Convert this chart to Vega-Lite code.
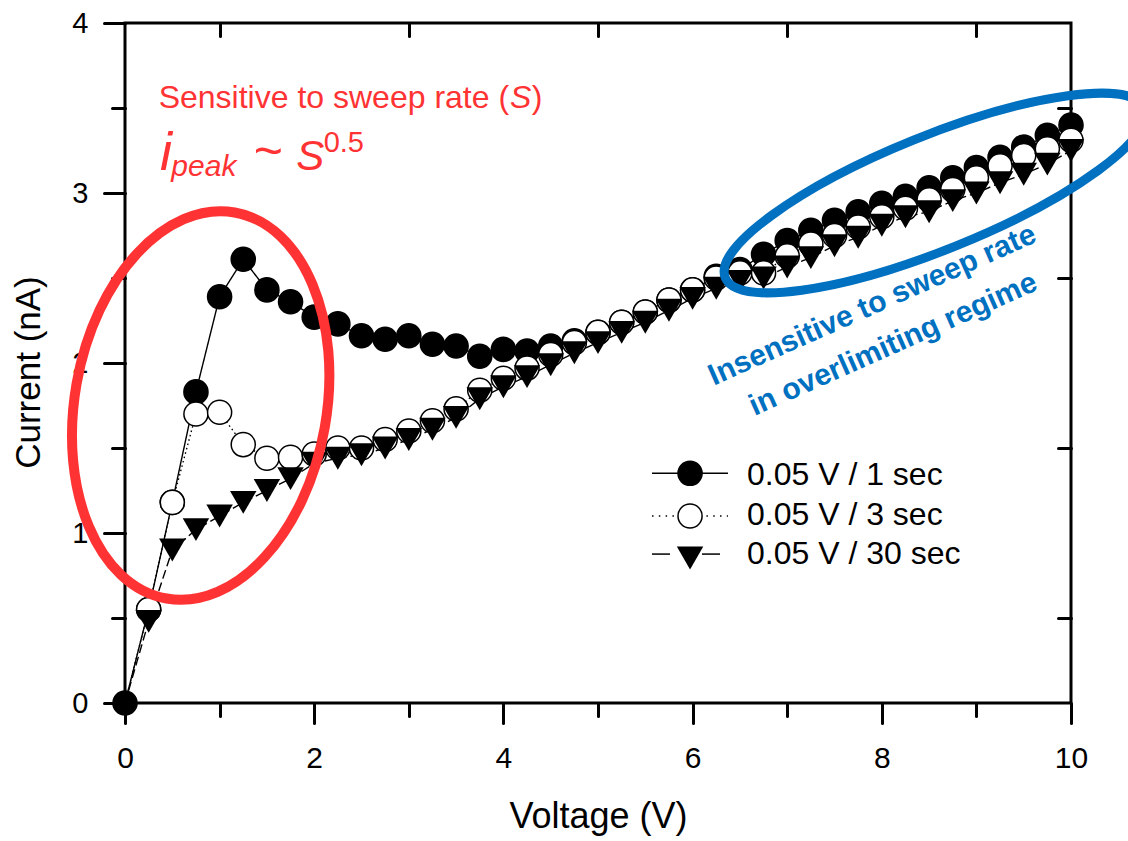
{
  "$schema": "https://vega.github.io/schema/vega-lite/v6.json",
  "width": 946,
  "height": 680,
  "autosize": {"type": "none"},
  "padding": {"left": 125, "top": 23, "right": 57, "bottom": 138},
  "background": "white",
  "data": {"values": [
    {"series":"0.05 V / 1 sec","V":0,"I":0},{"series":"0.05 V / 1 sec","V":0.25,"I":0.55},{"series":"0.05 V / 1 sec","V":0.5,"I":1.18},{"series":"0.05 V / 1 sec","V":0.75,"I":1.83},{"series":"0.05 V / 1 sec","V":1,"I":2.39},{"series":"0.05 V / 1 sec","V":1.25,"I":2.61},{"series":"0.05 V / 1 sec","V":1.5,"I":2.43},{"series":"0.05 V / 1 sec","V":1.75,"I":2.36},{"series":"0.05 V / 1 sec","V":2,"I":2.27},{"series":"0.05 V / 1 sec","V":2.25,"I":2.23},{"series":"0.05 V / 1 sec","V":2.5,"I":2.16},{"series":"0.05 V / 1 sec","V":2.75,"I":2.14},{"series":"0.05 V / 1 sec","V":3,"I":2.16},{"series":"0.05 V / 1 sec","V":3.25,"I":2.11},{"series":"0.05 V / 1 sec","V":3.5,"I":2.10},{"series":"0.05 V / 1 sec","V":3.75,"I":2.04},{"series":"0.05 V / 1 sec","V":4,"I":2.08},{"series":"0.05 V / 1 sec","V":4.25,"I":2.07},{"series":"0.05 V / 1 sec","V":4.5,"I":2.10},{"series":"0.05 V / 1 sec","V":4.75,"I":2.13},{"series":"0.05 V / 1 sec","V":5,"I":2.18},{"series":"0.05 V / 1 sec","V":5.25,"I":2.24},{"series":"0.05 V / 1 sec","V":5.5,"I":2.30},{"series":"0.05 V / 1 sec","V":5.75,"I":2.37},{"series":"0.05 V / 1 sec","V":6,"I":2.43},{"series":"0.05 V / 1 sec","V":6.25,"I":2.51},{"series":"0.05 V / 1 sec","V":6.5,"I":2.55},{"series":"0.05 V / 1 sec","V":6.75,"I":2.64},{"series":"0.05 V / 1 sec","V":7,"I":2.72},{"series":"0.05 V / 1 sec","V":7.25,"I":2.78},{"series":"0.05 V / 1 sec","V":7.5,"I":2.84},{"series":"0.05 V / 1 sec","V":7.75,"I":2.89},{"series":"0.05 V / 1 sec","V":8,"I":2.94},{"series":"0.05 V / 1 sec","V":8.25,"I":2.98},{"series":"0.05 V / 1 sec","V":8.5,"I":3.03},{"series":"0.05 V / 1 sec","V":8.75,"I":3.09},{"series":"0.05 V / 1 sec","V":9,"I":3.15},{"series":"0.05 V / 1 sec","V":9.25,"I":3.21},{"series":"0.05 V / 1 sec","V":9.5,"I":3.27},{"series":"0.05 V / 1 sec","V":9.75,"I":3.34},{"series":"0.05 V / 1 sec","V":10,"I":3.40},
    {"series":"0.05 V / 3 sec","V":0,"I":0},{"series":"0.05 V / 3 sec","V":0.25,"I":0.55},{"series":"0.05 V / 3 sec","V":0.5,"I":1.18},{"series":"0.05 V / 3 sec","V":0.75,"I":1.70},{"series":"0.05 V / 3 sec","V":1,"I":1.71},{"series":"0.05 V / 3 sec","V":1.25,"I":1.52},{"series":"0.05 V / 3 sec","V":1.5,"I":1.44},{"series":"0.05 V / 3 sec","V":1.75,"I":1.445},{"series":"0.05 V / 3 sec","V":2,"I":1.465},{"series":"0.05 V / 3 sec","V":2.25,"I":1.50},{"series":"0.05 V / 3 sec","V":2.5,"I":1.50},{"series":"0.05 V / 3 sec","V":2.75,"I":1.55},{"series":"0.05 V / 3 sec","V":3,"I":1.60},{"series":"0.05 V / 3 sec","V":3.25,"I":1.66},{"series":"0.05 V / 3 sec","V":3.5,"I":1.73},{"series":"0.05 V / 3 sec","V":3.75,"I":1.84},{"series":"0.05 V / 3 sec","V":4,"I":1.91},{"series":"0.05 V / 3 sec","V":4.25,"I":1.97},{"series":"0.05 V / 3 sec","V":4.5,"I":2.05},{"series":"0.05 V / 3 sec","V":4.75,"I":2.12},{"series":"0.05 V / 3 sec","V":5,"I":2.18},{"series":"0.05 V / 3 sec","V":5.25,"I":2.24},{"series":"0.05 V / 3 sec","V":5.5,"I":2.30},{"series":"0.05 V / 3 sec","V":5.75,"I":2.37},{"series":"0.05 V / 3 sec","V":6,"I":2.43},{"series":"0.05 V / 3 sec","V":6.25,"I":2.50},{"series":"0.05 V / 3 sec","V":6.5,"I":2.53},{"series":"0.05 V / 3 sec","V":6.75,"I":2.53},{"series":"0.05 V / 3 sec","V":7,"I":2.63},{"series":"0.05 V / 3 sec","V":7.25,"I":2.70},{"series":"0.05 V / 3 sec","V":7.5,"I":2.75},{"series":"0.05 V / 3 sec","V":7.75,"I":2.80},{"series":"0.05 V / 3 sec","V":8,"I":2.86},{"series":"0.05 V / 3 sec","V":8.25,"I":2.91},{"series":"0.05 V / 3 sec","V":8.5,"I":2.96},{"series":"0.05 V / 3 sec","V":8.75,"I":3.02},{"series":"0.05 V / 3 sec","V":9,"I":3.09},{"series":"0.05 V / 3 sec","V":9.25,"I":3.16},{"series":"0.05 V / 3 sec","V":9.5,"I":3.22},{"series":"0.05 V / 3 sec","V":9.75,"I":3.26},{"series":"0.05 V / 3 sec","V":10,"I":3.31},
    {"series":"0.05 V / 30 sec","V":0,"I":0},{"series":"0.05 V / 30 sec","V":0.25,"I":0.48},{"series":"0.05 V / 30 sec","V":0.5,"I":0.90},{"series":"0.05 V / 30 sec","V":0.75,"I":1.02},{"series":"0.05 V / 30 sec","V":1,"I":1.10},{"series":"0.05 V / 30 sec","V":1.25,"I":1.18},{"series":"0.05 V / 30 sec","V":1.5,"I":1.25},{"series":"0.05 V / 30 sec","V":1.75,"I":1.32},{"series":"0.05 V / 30 sec","V":2,"I":1.41},{"series":"0.05 V / 30 sec","V":2.25,"I":1.44},{"series":"0.05 V / 30 sec","V":2.5,"I":1.46},{"series":"0.05 V / 30 sec","V":2.75,"I":1.50},{"series":"0.05 V / 30 sec","V":3,"I":1.55},{"series":"0.05 V / 30 sec","V":3.25,"I":1.61},{"series":"0.05 V / 30 sec","V":3.5,"I":1.68},{"series":"0.05 V / 30 sec","V":3.75,"I":1.79},{"series":"0.05 V / 30 sec","V":4,"I":1.86},{"series":"0.05 V / 30 sec","V":4.25,"I":1.92},{"series":"0.05 V / 30 sec","V":4.5,"I":1.99},{"series":"0.05 V / 30 sec","V":4.75,"I":2.06},{"series":"0.05 V / 30 sec","V":5,"I":2.12},{"series":"0.05 V / 30 sec","V":5.25,"I":2.18},{"series":"0.05 V / 30 sec","V":5.5,"I":2.24},{"series":"0.05 V / 30 sec","V":5.75,"I":2.31},{"series":"0.05 V / 30 sec","V":6,"I":2.38},{"series":"0.05 V / 30 sec","V":6.25,"I":2.44},{"series":"0.05 V / 30 sec","V":6.5,"I":2.48},{"series":"0.05 V / 30 sec","V":6.75,"I":2.50},{"series":"0.05 V / 30 sec","V":7,"I":2.565},{"series":"0.05 V / 30 sec","V":7.25,"I":2.62},{"series":"0.05 V / 30 sec","V":7.5,"I":2.69},{"series":"0.05 V / 30 sec","V":7.75,"I":2.74},{"series":"0.05 V / 30 sec","V":8,"I":2.81},{"series":"0.05 V / 30 sec","V":8.25,"I":2.86},{"series":"0.05 V / 30 sec","V":8.5,"I":2.89},{"series":"0.05 V / 30 sec","V":8.75,"I":2.955},{"series":"0.05 V / 30 sec","V":9,"I":3.00},{"series":"0.05 V / 30 sec","V":9.25,"I":3.06},{"series":"0.05 V / 30 sec","V":9.5,"I":3.11},{"series":"0.05 V / 30 sec","V":9.75,"I":3.17},{"series":"0.05 V / 30 sec","V":10,"I":3.25}
  ]},
  "resolve": {"axis": {"x": "independent", "y": "independent"}},
  "layer": [
    {
      "mark": {"type": "line", "color": "black", "strokeWidth": 1.4},
      "encoding": {
        "x": {"field": "V", "type": "quantitative", "scale": {"domain": [0, 10], "nice": false},
          "axis": {"orient": "bottom", "values": [0, 2, 4, 6, 8, 10], "tickSize": 20, "labelPadding": 20, "labelFontSize": 30, "labelFlush": false, "title": "Voltage (V)", "titleFontSize": 36, "titlePadding": 26}},
        "y": {"field": "I", "type": "quantitative", "scale": {"domain": [0, 4], "nice": false},
          "axis": {"orient": "left", "values": [0, 1, 2, 3, 4], "tickSize": 21, "labelPadding": 16, "labelFontSize": 29, "title": "Current (nA)", "titleFontSize": 35, "titlePadding": 25, "titleY": 349}},
        "strokeDash": {"field": "series", "type": "nominal",
          "scale": {"domain": ["0.05 V / 1 sec", "0.05 V / 3 sec", "0.05 V / 30 sec"], "range": [[1, 0], [1.5, 3], [9, 4]]},
          "legend": null}
      }
    },
    {
      "transform": [{"filter": "datum.series === '0.05 V / 1 sec'"}],
      "mark": {"type": "point", "shape": "circle", "filled": true, "size": 580, "fill": "black", "stroke": "black", "strokeWidth": 1.5, "opacity": 1},
      "encoding": {
        "x": {"field": "V", "type": "quantitative", "scale": {"domain": [0, 10], "nice": false},
          "axis": {"orient": "bottom", "values": [1, 3, 5, 7, 9], "tickSize": 13, "labels": false, "title": null}},
        "y": {"field": "I", "type": "quantitative", "scale": {"domain": [0, 4], "nice": false},
          "axis": {"orient": "left", "values": [0.5, 1.5, 2.5, 3.5], "tickSize": 13, "labels": false, "title": null}}
      }
    },
    {
      "transform": [{"filter": "datum.series === '0.05 V / 3 sec' && datum.V > 0"}],
      "mark": {"type": "point", "shape": "circle", "filled": true, "size": 580, "fill": "white", "stroke": "black", "strokeWidth": 1.5, "opacity": 1},
      "encoding": {
        "x": {"field": "V", "type": "quantitative", "scale": {"domain": [0, 10], "nice": false},
          "axis": {"orient": "top", "values": [1, 3, 5, 7, 9], "tickSize": 13, "offset": -13, "labels": false, "title": null}},
        "y": {"field": "I", "type": "quantitative", "scale": {"domain": [0, 4], "nice": false},
          "axis": {"orient": "right", "values": [0.5, 1.5, 2.5, 3.5], "tickSize": 13, "offset": -13, "labels": false, "title": null}}
      }
    },
    {
      "transform": [{"filter": "datum.series === '0.05 V / 30 sec' && datum.V > 0"}],
      "mark": {"type": "point", "shape": "triangle-down", "filled": true, "size": 700, "color": "black", "opacity": 1},
      "encoding": {
        "x": {"field": "V", "type": "quantitative", "scale": {"domain": [0, 10], "nice": false}, "axis": null},
        "y": {"field": "I", "type": "quantitative", "scale": {"domain": [0, 4], "nice": false}, "axis": null}
      }
    },
    {
      "data": {"values": [{}]},
      "mark": {"type": "rule", "color": "black", "strokeWidth": 1.5},
      "encoding": {
        "x": {"datum": 5.571, "type": "quantitative", "scale": {"domain": [0, 10], "nice": false}, "axis": null},
        "x2": {"datum": 6.374},
        "y": {"datum": 1.351, "type": "quantitative", "scale": {"domain": [0, 4], "nice": false}, "axis": null}
      }
    },
    {
      "data": {"values": [{}]},
      "mark": {"type": "point", "shape": "circle", "filled": true, "size": 580, "fill": "black", "stroke": "black", "strokeWidth": 1.5, "opacity": 1},
      "encoding": {
        "x": {"datum": 5.973, "type": "quantitative", "scale": {"domain": [0, 10], "nice": false}, "axis": null},
        "y": {"datum": 1.351, "type": "quantitative", "scale": {"domain": [0, 4], "nice": false}, "axis": null}
      }
    },
    {
      "data": {"values": [{}]},
      "mark": {"type": "rule", "color": "black", "strokeWidth": 1.3, "strokeDash": [1.5, 5.3]},
      "encoding": {
        "x": {"datum": 5.571, "type": "quantitative", "scale": {"domain": [0, 10], "nice": false}, "axis": null},
        "x2": {"datum": 6.374},
        "y": {"datum": 1.100, "type": "quantitative", "scale": {"domain": [0, 4], "nice": false}, "axis": null}
      }
    },
    {
      "data": {"values": [{}]},
      "mark": {"type": "point", "shape": "circle", "filled": true, "size": 580, "fill": "white", "stroke": "black", "strokeWidth": 1.5, "opacity": 1},
      "encoding": {
        "x": {"datum": 5.973, "type": "quantitative", "scale": {"domain": [0, 10], "nice": false}, "axis": null},
        "y": {"datum": 1.100, "type": "quantitative", "scale": {"domain": [0, 4], "nice": false}, "axis": null}
      }
    },
    {
      "data": {"values": [{}]},
      "mark": {"type": "rule", "color": "black", "strokeWidth": 1.5},
      "encoding": {
        "x": {"datum": 5.571, "type": "quantitative", "scale": {"domain": [0, 10], "nice": false}, "axis": null},
        "x2": {"datum": 5.761},
        "y": {"datum": 0.876, "type": "quantitative", "scale": {"domain": [0, 4], "nice": false}, "axis": null}
      }
    },
    {
      "data": {"values": [{}]},
      "mark": {"type": "rule", "color": "black", "strokeWidth": 1.5},
      "encoding": {
        "x": {"datum": 6.099, "type": "quantitative", "scale": {"domain": [0, 10], "nice": false}, "axis": null},
        "x2": {"datum": 6.290},
        "y": {"datum": 0.876, "type": "quantitative", "scale": {"domain": [0, 4], "nice": false}, "axis": null}
      }
    },
    {
      "data": {"values": [{}]},
      "mark": {"type": "point", "shape": "triangle-down", "filled": true, "size": 700, "color": "black", "opacity": 1},
      "encoding": {
        "x": {"datum": 5.973, "type": "quantitative", "scale": {"domain": [0, 10], "nice": false}, "axis": null},
        "y": {"datum": 0.853, "type": "quantitative", "scale": {"domain": [0, 4], "nice": false}, "axis": null}
      }
    },
    {
      "data": {"values": [{}]},
      "mark": {"type": "text", "text": "0.05 V / 1 sec", "font": "Liberation Sans", "fontSize": 32, "color": "black", "align": "left", "baseline": "alphabetic"},
      "encoding": {
        "x": {"datum": 6.575, "type": "quantitative", "scale": {"domain": [0, 10], "nice": false}, "axis": null},
        "y": {"datum": 1.282, "type": "quantitative", "scale": {"domain": [0, 4], "nice": false}, "axis": null}
      }
    },
    {
      "data": {"values": [{}]},
      "mark": {"type": "text", "text": "0.05 V / 3 sec", "font": "Liberation Sans", "fontSize": 32, "color": "black", "align": "left", "baseline": "alphabetic"},
      "encoding": {
        "x": {"datum": 6.575, "type": "quantitative", "scale": {"domain": [0, 10], "nice": false}, "axis": null},
        "y": {"datum": 1.047, "type": "quantitative", "scale": {"domain": [0, 4], "nice": false}, "axis": null}
      }
    },
    {
      "data": {"values": [{}]},
      "mark": {"type": "text", "text": "0.05 V / 30 sec", "font": "Liberation Sans", "fontSize": 32, "color": "black", "align": "left", "baseline": "alphabetic"},
      "encoding": {
        "x": {"datum": 6.575, "type": "quantitative", "scale": {"domain": [0, 10], "nice": false}, "axis": null},
        "y": {"datum": 0.818, "type": "quantitative", "scale": {"domain": [0, 4], "nice": false}, "axis": null}
      }
    },
    {
      "data": {"values": [{}]},
      "mark": {"type": "point", "shape": "M 0 -196 A 126 196 0 1 0 0 196 A 126 196 0 1 0 0 -196 Z", "size": 4, "filled": false, "stroke": "#FF3333", "strokeWidth": 10, "angle": 10, "opacity": 1},
      "encoding": {
        "x": {"datum": 0.80, "type": "quantitative", "scale": {"domain": [0, 10], "nice": false}, "axis": null},
        "y": {"datum": 1.75, "type": "quantitative", "scale": {"domain": [0, 4], "nice": false}, "axis": null}
      }
    },
    {
      "data": {"values": [{}]},
      "mark": {"type": "point", "shape": "M -226 0 A 226 57 0 1 0 226 0 A 226 57 0 1 0 -226 0 Z", "size": 4, "filled": false, "stroke": "#0070C0", "strokeWidth": 9, "angle": 338, "opacity": 1},
      "encoding": {
        "x": {"datum": 8.56, "type": "quantitative", "scale": {"domain": [0, 10], "nice": false}, "axis": null},
        "y": {"datum": 3.00, "type": "quantitative", "scale": {"domain": [0, 4], "nice": false}, "axis": null}
      }
    },
    {
      "data": {"values": [{}]},
      "mark": {"type": "text", "text": "Sensitive to sweep rate (", "font": "Liberation Sans", "fontSize": 32, "color": "#FF3333", "align": "right", "baseline": "alphabetic"},
      "encoding": {
        "x": {"datum": 4.06, "type": "quantitative", "scale": {"domain": [0, 10], "nice": false}, "axis": null},
        "y": {"datum": 3.50, "type": "quantitative", "scale": {"domain": [0, 4], "nice": false}, "axis": null}
      }
    },
    {
      "data": {"values": [{}]},
      "mark": {"type": "text", "text": "S", "font": "Liberation Sans", "fontStyle": "italic", "fontSize": 32, "color": "#FF3333", "align": "left", "baseline": "alphabetic"},
      "encoding": {
        "x": {"datum": 4.07, "type": "quantitative", "scale": {"domain": [0, 10], "nice": false}, "axis": null},
        "y": {"datum": 3.50, "type": "quantitative", "scale": {"domain": [0, 4], "nice": false}, "axis": null}
      }
    },
    {
      "data": {"values": [{}]},
      "mark": {"type": "text", "text": ")", "font": "Liberation Sans", "fontSize": 32, "color": "#FF3333", "align": "left", "baseline": "alphabetic"},
      "encoding": {
        "x": {"datum": 4.30, "type": "quantitative", "scale": {"domain": [0, 10], "nice": false}, "axis": null},
        "y": {"datum": 3.50, "type": "quantitative", "scale": {"domain": [0, 4], "nice": false}, "axis": null}
      }
    },
    {
      "data": {"values": [{}]},
      "mark": {"type": "text", "text": "i", "font": "Liberation Sans", "fontStyle": "italic", "fontSize": 54, "color": "#FF3333", "align": "left", "baseline": "alphabetic"},
      "encoding": {
        "x": {"datum": 0.37, "type": "quantitative", "scale": {"domain": [0, 10], "nice": false}, "axis": null},
        "y": {"datum": 3.135, "type": "quantitative", "scale": {"domain": [0, 4], "nice": false}, "axis": null}
      }
    },
    {
      "data": {"values": [{}]},
      "mark": {"type": "text", "text": "peak", "font": "Liberation Sans", "fontStyle": "italic", "fontSize": 30, "color": "#FF3333", "align": "left", "baseline": "alphabetic"},
      "encoding": {
        "x": {"datum": 0.49, "type": "quantitative", "scale": {"domain": [0, 10], "nice": false}, "axis": null},
        "y": {"datum": 3.10, "type": "quantitative", "scale": {"domain": [0, 4], "nice": false}, "axis": null}
      }
    },
    {
      "data": {"values": [{}]},
      "mark": {"type": "text", "text": "~", "font": "Liberation Sans", "fontSize": 50, "color": "#FF3333", "align": "left", "baseline": "alphabetic"},
      "encoding": {
        "x": {"datum": 1.36, "type": "quantitative", "scale": {"domain": [0, 10], "nice": false}, "axis": null},
        "y": {"datum": 3.15, "type": "quantitative", "scale": {"domain": [0, 4], "nice": false}, "axis": null}
      }
    },
    {
      "data": {"values": [{}]},
      "mark": {"type": "text", "text": "S", "font": "Liberation Sans", "fontStyle": "italic", "fontSize": 42, "color": "#FF3333", "align": "left", "baseline": "alphabetic"},
      "encoding": {
        "x": {"datum": 1.81, "type": "quantitative", "scale": {"domain": [0, 10], "nice": false}, "axis": null},
        "y": {"datum": 3.135, "type": "quantitative", "scale": {"domain": [0, 4], "nice": false}, "axis": null}
      }
    },
    {
      "data": {"values": [{}]},
      "mark": {"type": "text", "text": "0.5", "font": "Liberation Sans", "fontSize": 29, "color": "#FF3333", "align": "left", "baseline": "alphabetic"},
      "encoding": {
        "x": {"datum": 2.10, "type": "quantitative", "scale": {"domain": [0, 10], "nice": false}, "axis": null},
        "y": {"datum": 3.243, "type": "quantitative", "scale": {"domain": [0, 4], "nice": false}, "axis": null}
      }
    },
    {
      "data": {"values": [{}]},
      "mark": {"type": "text", "text": "Insensitive to sweep rate", "font": "Liberation Sans", "fontWeight": "bold", "fontSize": 30, "color": "#0070C0", "align": "center", "baseline": "middle", "angle": 336},
      "encoding": {
        "x": {"datum": 7.90, "type": "quantitative", "scale": {"domain": [0, 10], "nice": false}, "axis": null},
        "y": {"datum": 2.34, "type": "quantitative", "scale": {"domain": [0, 4], "nice": false}, "axis": null}
      }
    },
    {
      "data": {"values": [{}]},
      "mark": {"type": "text", "text": "in overlimiting regime", "font": "Liberation Sans", "fontWeight": "bold", "fontSize": 30, "color": "#0070C0", "align": "center", "baseline": "middle", "angle": 336},
      "encoding": {
        "x": {"datum": 8.12, "type": "quantitative", "scale": {"domain": [0, 10], "nice": false}, "axis": null},
        "y": {"datum": 2.11, "type": "quantitative", "scale": {"domain": [0, 4], "nice": false}, "axis": null}
      }
    }
  ],
  "config": {
    "font": "Liberation Sans",
    "view": {"stroke": "black", "strokeWidth": 3},
    "axis": {"grid": false, "domain": false, "ticks": true, "tickColor": "black", "tickWidth": 3, "tickCap": "round", "labelColor": "black", "titleColor": "black", "labelFont": "Liberation Sans", "titleFont": "Liberation Sans", "titleFontWeight": "normal"}
  }
}
